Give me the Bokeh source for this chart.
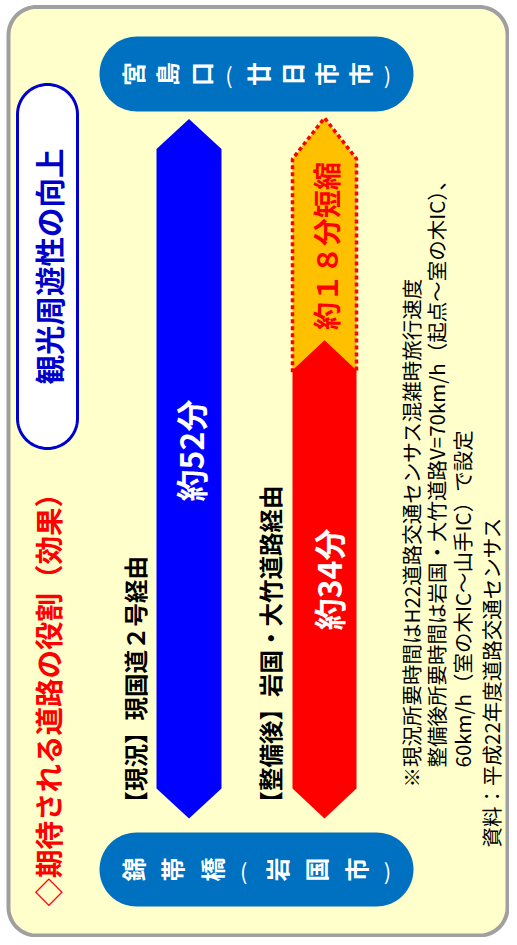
import numpy as np
from bokeh.plotting import figure
from bokeh.models import Range1d
from bokeh.core.properties import value
from bokeh.embed import file_html
from bokeh.resources import INLINE

# ---------------- data ----------------
title = "◇期待される道路の役割（効果）"
badge = "観光周遊性の向上"
origin = "宮島口（廿日市市）"      # top end of the route
destination = "錦帯橋（岩国市）"   # bottom end of the route
route_labels = ["【現況】現国道２号経由", "【整備後】岩国・大竹道路経由"]
route_minutes = [52, 34]
time_labels = ["約52分", "約34分"]
saving_minutes = 18
saving_label = "約１８分短縮"
notes = [
    "※現況所要時間はH22道路交通センサス混雑時旅行速度",
    "整備後所要時間は岩国・大竹道路V=70km/h（起点～室の木IC）、",
    "60km/h（室の木IC～山手IC）で設定",
    "資料：平成22年度道路交通センサス",
]

# ---------------- style ----------------
FONT = "Noto Sans CJK JP"
FRAME_FILL = "#FFFFCC"
FRAME_LINE = "#A0A0A0"
PILL_BLUE = "#0070C0"
BADGE_BLUE = "#0000CC"
BAR_COLORS = ["#0000FF", "#FF0000"]
SAVE_FILL = "#FFC000"
RED = "#FF0000"
ROT = np.pi / 2

W, H = 509, 937

# layout (screen pixel space)
BAR_X = [(156, 221), (292, 356)]
BASE_Y = 788          # screen y of 0 minutes (lower shoulder)
PX_PER_MIN = 12.3
HEAD = 30


def y_of(minutes):
    return BASE_Y - minutes * PX_PER_MIN


def rrect(x0, y0, x1, y1, r, n=20):
    xs, ys = [], []
    corners = [(x0 + r, y0 + r, np.pi, 1.5 * np.pi),
               (x1 - r, y0 + r, 1.5 * np.pi, 2 * np.pi),
               (x1 - r, y1 - r, 0.0, 0.5 * np.pi),
               (x0 + r, y1 - r, 0.5 * np.pi, np.pi)]
    for cx, cy, a0, a1 in corners:
        t = np.linspace(a0, a1, n)
        xs += list(cx + r * np.cos(t))
        ys += list(cy + r * np.sin(t))
    return xs, ys


p = figure(width=W, height=H, x_range=Range1d(0, W), y_range=Range1d(H, 0),
           output_backend="svg", toolbar_location=None, min_border=0,
           x_axis_location=None, y_axis_location=None)
p.grid.visible = False
p.outline_line_color = None
p.background_fill_color = "white"
p.border_fill_color = "white"

# outer frame
fx, fy = rrect(8, 6.5, 507, 935, 28)
p.patch(fx, fy, fill_color=FRAME_FILL, line_color=FRAME_LINE, line_width=4)

# end pills
for (y0, y1), name in [((36, 111), origin), ((832, 906), destination)]:
    px, py = rrect(99, y0, 413, y1, (y1 - y0) / 2)
    p.patch(px, py, fill_color=PILL_BLUE, line_color=None)
    chars = list(name)
    w = np.array([0.65 if c in "（）" else 1.0 for c in chars])
    centers = np.cumsum(w) - w / 2
    centers = centers - centers[0]
    xs = 132 + centers / centers[-1] * (387 - 132)
    yc = (y0 + y1) / 2
    for c, xc in zip(chars, xs):
        if c in "（）":
            p.text(x=[xc], y=[yc], text=["(" if c == "（" else ")"], angle=0,
                   text_font=value(FONT), text_font_size="22px", text_color="white",
                   text_align="center", text_baseline="middle")
        else:
            p.text(x=[xc], y=[yc], text=[c], angle=ROT,
                   text_font=value(FONT), text_font_size="24px", text_font_style="bold",
                   text_color="white", text_align="center", text_baseline="middle")

# badge
bx, by = rrect(17, 84, 77, 448, 30)
p.patch(bx, by, fill_color="white", line_color=BADGE_BLUE, line_width=3)
p.text(x=[47], y=[266], text=[badge], angle=ROT, text_font=value(FONT),
       text_font_size="29.5px", text_font_style="bold", text_color=BADGE_BLUE,
       text_align="center", text_baseline="middle")

# title
p.text(x=[47], y=[906], text=[title], angle=ROT, text_font=value(FONT),
       text_font_size="28.5px", text_font_style="bold", text_color=RED,
       text_align="left", text_baseline="middle")

# saving (orange) arrow head part, behind the red bar
sx0, sx1 = BAR_X[1]
s_bottom = y_of(route_minutes[1])
s_shoulder = y_of(route_minutes[1] + saving_minutes) + 10
s_tip = s_shoulder - 41
smid = (sx0 + sx1) / 2
p.patch([sx0, sx0, smid, sx1, sx1], [s_bottom, s_shoulder, s_tip, s_shoulder, s_bottom],
        fill_color=SAVE_FILL, line_color=None)
p.line([sx0, sx0, smid, sx1, sx1], [s_bottom + 2, s_shoulder, s_tip, s_shoulder, s_bottom + 2],
       line_color=RED, line_width=3.5, line_dash="4 3")

# route bars
for (x0, x1), m, col in zip(BAR_X, route_minutes, BAR_COLORS):
    top = y_of(m)
    xm = (x0 + x1) / 2
    p.patch([x0, xm, x1, x1, xm, x0], [top, top - HEAD, top, BASE_Y, BASE_Y + HEAD, BASE_Y],
            fill_color=col, line_color=None)

# time labels inside bars
p.text(x=[189], y=[450], text=[time_labels[0]],
       angle=ROT, text_font=value(FONT), text_font_size="32px", text_font_style="bold",
       text_color="white", text_align="center", text_baseline="middle")
p.text(x=[327], y=[(y_of(route_minutes[1]) - HEAD + BASE_Y + HEAD) / 2], text=[time_labels[1]],
       angle=ROT, text_font=value(FONT), text_font_size="32px", text_font_style="bold",
       text_color="white", text_align="center", text_baseline="middle")
p.text(x=[325], y=[(s_tip + s_bottom) / 2 + 2], text=[saving_label], angle=ROT,
       text_font=value(FONT), text_font_size="28px", text_font_style="bold",
       text_color=RED, text_align="center", text_baseline="middle")

# route labels
for xc, lab in zip([134, 269], route_labels):
    p.text(x=[xc], y=[814], text=[lab], angle=ROT, text_font=value(FONT),
           text_font_size="23.5px", text_font_style="bold", text_color="black",
           text_align="left", text_baseline="middle")

# notes
for xc, y0, line in zip([410, 435, 461, 490], [787, 767, 767, 847], notes):
    p.text(x=[xc], y=[y0], text=[line], angle=ROT, text_font=value(FONT),
           text_font_size="20.5px", text_color="black",
           text_align="left", text_baseline="middle")

open("out.html", "w").write(file_html(p, INLINE))
